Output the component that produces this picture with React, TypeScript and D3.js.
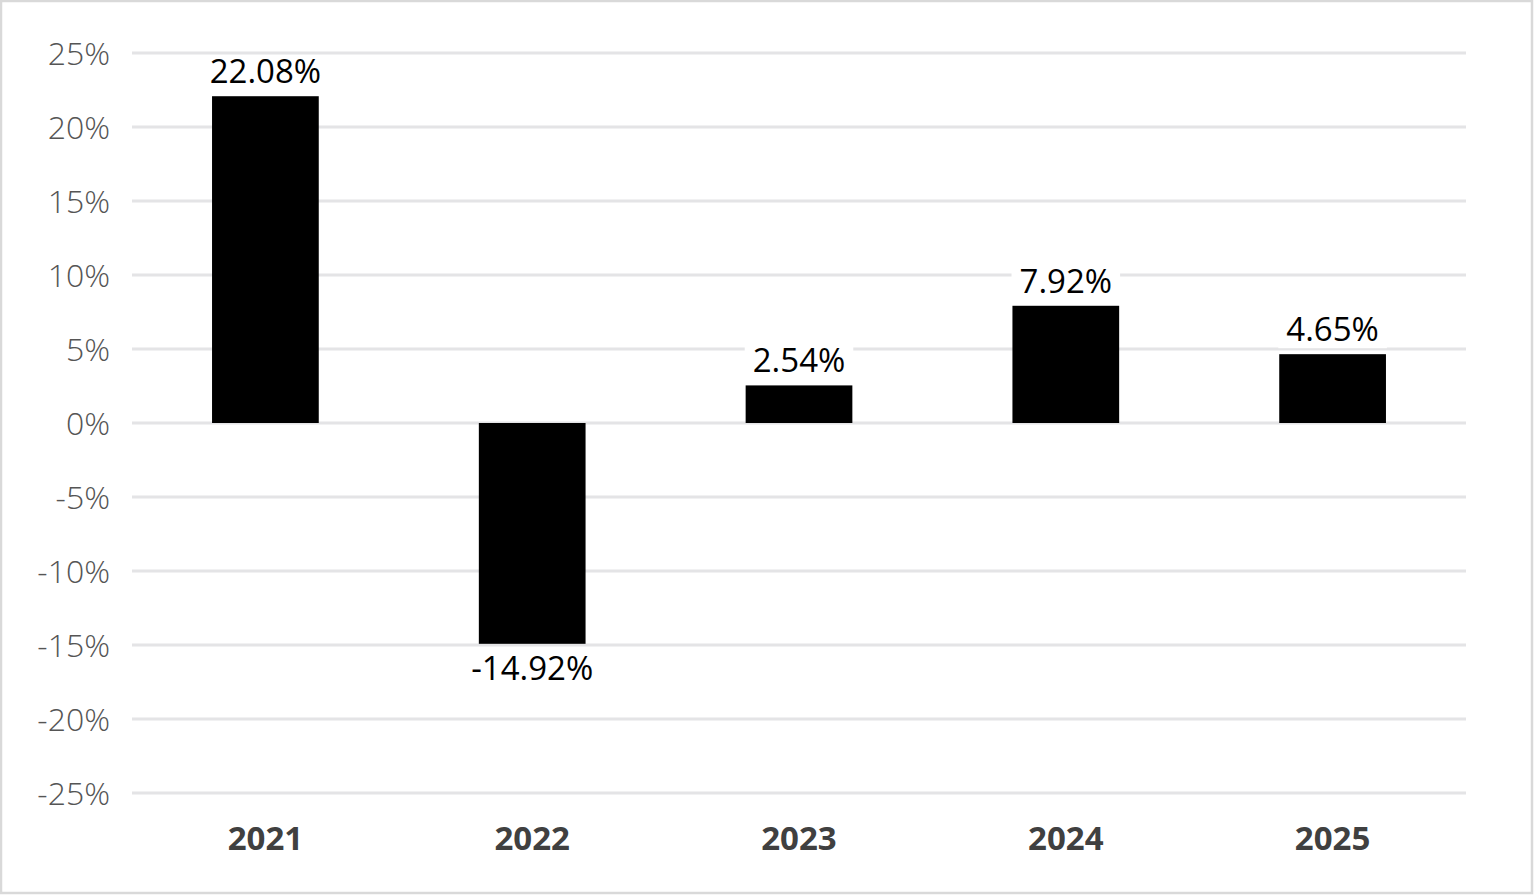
import React, { useEffect, useRef } from 'react';
import * as d3 from 'd3';

const years: string[] = ['2021', '2022', '2023', '2024', '2025'];
const returns: number[] = [22.08, -14.92, 2.54, 7.92, 4.65];
const yTicks: number[] = [25, 20, 15, 10, 5, 0, -5, -10, -15, -20, -25];

const W = 1534;
const H = 895;
const FONT = '"Open Sans", "Liberation Sans", sans-serif';

const App: React.FC = () => {
  const svgRef = useRef<SVGSVGElement>(null);

  useEffect(() => {
    if (!svgRef.current) return;
    const svg = d3.select(svgRef.current);
    svg.selectAll('*').remove();

    const margin = { top: 53, right: 68, bottom: 102, left: 132 };

    const x = d3
      .scaleBand<string>()
      .domain(years)
      .range([margin.left, W - margin.right])
      .paddingInner(0.6)
      .paddingOuter(0.3);

    const y = d3
      .scaleLinear()
      .domain([-25, 25])
      .range([H - margin.bottom, margin.top]);

    // chart border
    svg
      .append('rect')
      .attr('x', 1)
      .attr('y', 1)
      .attr('width', W - 3)
      .attr('height', H - 3)
      .attr('fill', '#fff')
      .attr('stroke', '#d9d9d9')
      .attr('stroke-width', 2.5);

    // gridlines
    svg
      .append('g')
      .selectAll('line')
      .data(yTicks)
      .join('line')
      .attr('x1', margin.left)
      .attr('x2', W - margin.right)
      .attr('y1', (d) => y(d))
      .attr('y2', (d) => y(d))
      .attr('stroke', '#e4e4e6')
      .attr('stroke-width', 3);

    // y labels
    svg
      .append('g')
      .selectAll('text')
      .data(yTicks)
      .join('text')
      .attr('x', 110)
      .attr('y', (d) => y(d))
      .attr('dy', '0.36em')
      .attr('text-anchor', 'end')
      .attr('font-family', FONT)
      .attr('font-size', 32)
      .attr('font-weight', 300)
      .attr('fill', '#555')
      .text((d) => `${d}%`);

    // bars
    svg
      .append('g')
      .selectAll('rect')
      .data(returns)
      .join('rect')
      .attr('x', (_, i) => x(years[i]) as number)
      .attr('width', x.bandwidth())
      .attr('y', (d) => y(Math.max(0, d)))
      .attr('height', (d) => Math.abs(y(d) - y(0)))
      .attr('fill', '#000');

    // data labels with white backing
    const labels = svg
      .append('g')
      .selectAll('g')
      .data(returns)
      .join('g')
      .attr('transform', (d, i) => {
        const cx = (x(years[i]) as number) + x.bandwidth() / 2;
        const by = d >= 0 ? y(d) - 13 : y(d) + 36;
        return `translate(${cx},${by})`;
      });

    const backs = labels.append('rect').attr('fill', '#fff');

    const texts = labels
      .append('text')
      .attr('text-anchor', 'middle')
      .attr('font-family', FONT)
      .attr('font-size', 33)
      .attr('fill', '#000')
      .text((d) => `${d.toFixed(2)}%`);

    texts.each(function (_, i) {
      const w = (this as SVGTextElement).getComputedTextLength();
      d3.select(backs.nodes()[i])
        .attr('x', -w / 2 - 8)
        .attr('y', -27)
        .attr('width', w + 16)
        .attr('height', 34);
    });

    // category labels
    svg
      .append('g')
      .selectAll('text')
      .data(years)
      .join('text')
      .attr('x', (d) => (x(d) as number) + x.bandwidth() / 2)
      .attr('y', 850)
      .attr('text-anchor', 'middle')
      .attr('font-family', FONT)
      .attr('font-size', 33)
      .attr('font-weight', 700)
      .attr('fill', '#404040')
      .text((d) => d);
  }, []);

  return (
    <div style={{ position: 'fixed', left: 0, top: 0, background: '#fff' }}>
      <svg ref={svgRef} width={W} height={H} style={{ display: 'block' }} />
    </div>
  );
};

export default App;
